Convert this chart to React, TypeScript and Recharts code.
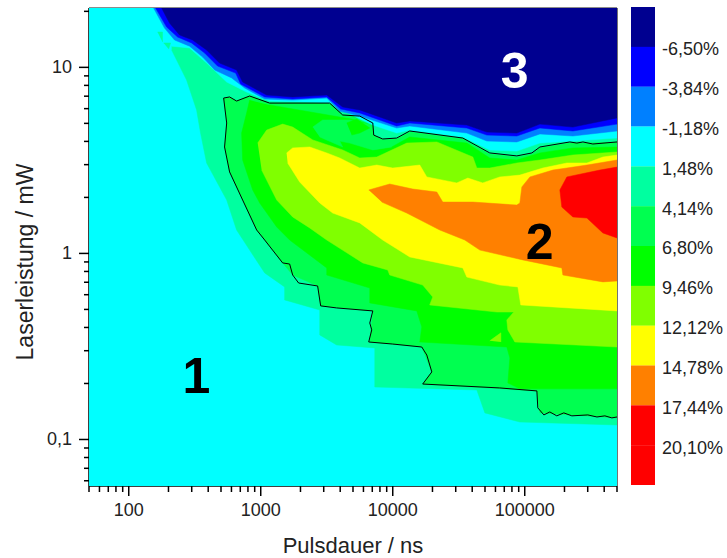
import React from "react";
import {
  ComposedChart, Scatter, XAxis, YAxis, ReferenceLine, ReferenceDot,
  BarChart, Bar, Cell,
} from "recharts";

type Pair = [number, number];

// Every contour region: [log10(pulse duration / ns), log10(laser power / mW)]
const baseBand: Pair[] = [[1.699,-1.25],[5.699,-1.25],[5.699,1.319],[1.699,1.319]];
const mintBand: Pair[] = [[2.325,1.093],[2.438,.932],[2.514,.771],[2.544,.647],[2.590,.486],[2.742,.287],[2.817,.126],[2.916,.018],[3.030,-.105],[3.181,-.180],[3.181,-.250],[3.447,-.304],[3.447,-.438],[3.575,-.492],[3.864,-.508],[3.864,-.718],[4.637,-.734],[4.698,-.857],[4.963,-.906],[5.699,-.922],[5.699,1.319],[2.325,1.319]];
const springBand: Pair[] = [[2.719,.835],[2.742,.701],[2.726,.572],[2.764,.438],[2.863,.287],[2.969,.126],[3.030,.072],[3.166,-.051],[3.242,-.116],[3.431,-.175],[3.454,-.282],[3.849,-.309],[3.826,-.476],[4.220,-.503],[4.296,-.637],[4.227,-.702],[4.834,-.728],[5.092,-.739],[5.115,-.857],[5.699,-.884],[5.699,.599],[5.441,.593],[5.342,.593],[5.115,.567],[5.054,.534],[4.940,.518],[4.735,.534],[4.531,.615],[4.129,.652],[4.030,.615],[3.924,.610],[3.856,.636],[3.849,.701],[3.750,.738],[3.621,.744],[3.522,.808],[3.067,.808],[2.916,.846],[2.817,.819],[2.764,.841]];
const greenBand: Pair[] = [[2.916,.824],[2.893,.755],[2.855,.647],[2.863,.502],[2.939,.341],[2.992,.271],[3.121,.142],[3.219,.072],[3.500,-.078],[3.500,-.116],[3.826,-.186],[3.826,-.266],[4.182,-.309],[4.220,-.395],[4.205,-.476],[4.864,-.503],[4.887,-.562],[4.872,-.696],[4.963,-.728],[5.699,-.728],[5.699,.572],[5.365,.567],[5.115,.540],[4.940,.502],[4.735,.513],[4.561,.593],[4.129,.626],[3.992,.572],[3.849,.556],[3.841,.647],[3.811,.695],[3.689,.722],[3.598,.733],[3.067,.798]];
const springIsland: Pair[] = [[3.394,.679],[3.469,.717],[3.674,.717],[3.841,.690],[3.856,.636],[3.924,.610],[3.992,.572],[3.849,.556],[3.674,.593],[3.598,.604],[3.621,.572],[3.447,.626]];
const greenBlob: Pair[] = [[3.651,.701],[3.727,.722],[3.826,.674],[3.750,.647],[3.689,.636]];
const limeBand: Pair[] = [[2.977,.593],[3.045,.663],[3.166,.695],[3.242,.679],[3.394,.610],[3.621,.556],[3.750,.513],[3.879,.518],[4.106,.593],[4.334,.599],[4.607,.518],[4.637,.459],[4.735,.459],[4.940,.486],[5.115,.502],[5.365,.529],[5.699,.545],[5.699,-.503],[4.925,-.476],[4.872,-.411],[4.864,-.358],[4.917,-.315],[4.789,-.315],[4.280,-.277],[4.303,-.234],[4.227,-.170],[3.977,-.116],[3.962,-.089],[3.773,-.051],[3.500,.072],[3.371,.137],[3.242,.196],[3.121,.287],[3.007,.448]];
const limeSpot: Pair[] = [[4.735,-.470],[4.819,-.427],[4.819,-.476]];
const yellowBand: Pair[] = [[3.196,.540],[3.242,.567],[3.371,.572],[3.500,.540],[3.598,.513],[3.750,.459],[3.879,.475],[4.000,.459],[4.205,.475],[4.258,.411],[4.485,.379],[4.569,.405],[4.682,.379],[4.811,.411],[4.963,.421],[5.137,.459],[5.319,.486],[5.471,.486],[5.592,.518],[5.699,.529],[5.699,-.309],[4.970,-.277],[4.948,-.180],[4.811,-.170],[4.561,-.127],[4.531,-.078],[4.129,-.019],[3.924,.072],[3.750,.164],[3.545,.217],[3.447,.271],[3.295,.384],[3.204,.486]];
const orangeBand: Pair[] = [[3.818,.341],[3.977,.373],[4.152,.346],[4.334,.330],[4.379,.276],[4.607,.276],[4.940,.260],[4.963,.271],[4.978,.357],[5.039,.411],[5.213,.448],[5.319,.459],[5.471,.475],[5.699,.502],[5.699,-.148],[5.592,-.153],[5.289,-.116],[5.281,-.078],[4.986,-.035],[4.660,.018],[4.546,.072],[4.356,.126],[4.106,.217],[3.917,.276]];
const redBand: Pair[] = [[5.699,.464],[5.569,.448],[5.319,.411],[5.266,.341],[5.281,.249],[5.365,.196],[5.471,.190],[5.592,.110],[5.699,.083]];
const upperCyanBand: Pair[] = [[2.158,1.319],[2.249,1.200],[2.325,1.114],[2.461,1.104],[2.590,1.023],[2.742,.921],[2.893,.867],[3.067,.819],[3.394,.813],[3.545,.808],[3.651,.760],[3.750,.722],[3.849,.690],[4.030,.647],[4.129,.663],[4.531,.626],[4.735,.556],[4.940,.550],[5.115,.593],[5.365,.604],[5.699,.620],[5.699,1.319]];
const speckA: Pair[] = [[2.218,1.190],[2.256,1.190],[2.256,1.136]];
const speckB: Pair[] = [[2.264,1.131],[2.317,1.131],[2.302,1.098]];
const azureBand: Pair[] = [[2.188,1.319],[2.271,1.211],[2.347,1.147],[2.461,1.114],[2.560,1.055],[2.651,.986],[2.780,.943],[2.878,.889],[3.030,.830],[3.242,.824],[3.500,.835],[3.598,.765],[3.750,.738],[4.030,.674],[4.129,.685],[4.561,.647],[4.713,.604],[4.940,.599],[5.115,.642],[5.365,.631],[5.699,.658],[5.699,1.319]];
const blueBand: Pair[] = [[2.203,1.319],[2.287,1.217],[2.370,1.163],[2.476,1.131],[2.575,1.077],[2.673,1.007],[2.810,.969],[2.848,.910],[3.030,.841],[3.242,.830],[3.500,.841],[3.606,.776],[3.750,.755],[4.030,.685],[4.129,.701],[4.561,.674],[4.713,.636],[4.940,.631],[5.115,.674],[5.365,.658],[5.699,.695],[5.699,1.319]];
const navyBand: Pair[] = [[2.249,1.319],[2.309,1.238],[2.385,1.174],[2.484,1.147],[2.590,1.093],[2.688,1.023],[2.817,.986],[2.863,.921],[3.045,.851],[3.242,.841],[3.500,.851],[3.621,.787],[3.750,.771],[4.030,.701],[4.129,.712],[4.561,.690],[4.713,.652],[4.940,.647],[5.115,.695],[5.365,.679],[5.699,.728],[5.699,1.319]];
const contour: Pair[] = [[5.699,.599],[5.516,.588],[5.441,.599],[5.395,.593],[5.342,.599],[5.115,.572],[5.054,.540],[4.940,.524],[4.735,.540],[4.531,.620],[4.129,.658],[4.030,.620],[3.924,.615],[3.856,.636],[3.849,.701],[3.750,.738],[3.621,.744],[3.522,.808],[3.067,.808],[2.916,.846],[2.817,.819],[2.764,.841],[2.719,.835],[2.742,.701],[2.726,.572],[2.764,.438],[2.863,.287],[2.969,.126],[3.030,.072],[3.166,-.051],[3.219,-.057],[3.242,-.116],[3.287,-.159],[3.431,-.175],[3.454,-.282],[3.575,-.293],[3.849,-.309],[3.826,-.374],[3.841,-.411],[3.818,-.476],[4.000,-.487],[4.220,-.503],[4.258,-.546],[4.296,-.637],[4.227,-.702],[4.811,-.723],[5.092,-.739],[5.099,-.830],[5.145,-.868],[5.190,-.852],[5.243,-.873],[5.296,-.857],[5.357,-.873],[5.478,-.868],[5.547,-.879],[5.607,-.873],[5.660,-.884],[5.699,-.879]];

const NAVY = "#000090", BLUE = "#0000ff", AZURE = "#0080ff", CYAN = "#00ffff", MINT = "#00ffa0",
  SPRING = "#00ff50", GREEN = "#00ff00", LIME = "#80ff00", YELLOW = "#ffff00", ORANGE = "#ff8000", RED = "#ff0000";

const regions: [Pair[], string][] = [
  [baseBand, CYAN], [mintBand, MINT], [springBand, SPRING], [greenBand, GREEN], [springIsland, SPRING],
  [greenBlob, GREEN], [limeBand, LIME], [limeSpot, LIME], [yellowBand, YELLOW], [orangeBand, ORANGE],
  [redBand, RED], [upperCyanBand, CYAN], [speckA, MINT], [speckB, MINT], [azureBand, AZURE],
  [blueBand, BLUE], [navyBand, NAVY],
];

const toPoints = (pairs: Pair[]) => pairs.map(([t, p]) => ({ t: 10 ** t, p: 10 ** p }));

const xMajor = [100, 1000, 10000, 100000];
const xMinor = [50, 60, 70, 80, 90, 200, 300, 400, 500, 600, 700, 800, 900, 2000, 3000, 4000, 5000, 6000, 7000, 8000, 9000, 20000, 30000, 40000, 50000, 60000, 70000, 80000, 90000, 200000, 300000, 400000, 500000];
const yMajor = [0.1, 1, 10];
const yMinor = [0.06, 0.07, 0.08, 0.09, 0.2, 0.3, 0.4, 0.5, 0.6, 0.7, 0.8, 0.9, 2, 3, 4, 5, 6, 7, 8, 9, 20];

const scaleLevels = ["-6,50%", "-3,84%", "-1,18%", "1,48%", "4,14%", "6,80%", "9,46%", "12,12%", "14,78%", "17,44%", "20,10%", ""];
const scaleColors = [NAVY, BLUE, AZURE, CYAN, MINT, SPRING, GREEN, LIME, YELLOW, ORANGE, RED, RED];
const scaleRows = scaleLevels.map((level) => ({ level, span: 1 }));

const FONT = '"Liberation Sans", Arial, sans-serif';
const INK = "#222";

const XTick = ({ x, y, payload }: any) => {
  const major = xMajor.includes(payload.value);
  return (
    <g>
      <line x1={x} x2={x} y1={y} y2={y + (major ? 10 : 6)} stroke="#000" strokeWidth={1.5} />
      {major && <text x={x} y={y + 30} textAnchor="middle" fontSize={18} fontFamily={FONT} fill={INK}>{payload.value}</text>}
    </g>
  );
};

const YTick = ({ x, y, payload }: any) => {
  const major = yMajor.includes(payload.value);
  return (
    <g>
      <line x1={x - (major ? 10 : 5)} x2={x} y1={y} y2={y} stroke="#000" strokeWidth={1.5} />
      {major && <text x={x - 17} y={y + 6} textAnchor="end" fontSize={18} fontFamily={FONT} fill={INK}>{String(payload.value).replace(".", ",")}</text>}
    </g>
  );
};

const YTitle = () => (
  <text transform="translate(33,262) rotate(-90)" textAnchor="middle" fontSize={23} fontFamily={FONT} fill={INK}>
    Laserleistung / mW
  </text>
);

const noMark = () => <g />;

const digit = (value: string, fill: string) => ({
  value, position: "center" as const, fontSize: 50, fontWeight: 700, fontFamily: FONT, fill,
});

export default function App() {
  return (
    <div style={{ position: "absolute", left: 0, top: 0, width: 727, height: 558, background: "#fff" }}>
      <ComposedChart width={727} height={558} margin={{ top: 8, right: 110, bottom: 0, left: 0 }} style={{ position: "absolute", left: 0, top: 0 }}>
        <XAxis
          dataKey="t" type="number" scale="log" domain={[50, 500000]} allowDataOverflow
          ticks={[...xMajor, ...xMinor].sort((a, b) => a - b)} interval={0} height={72}
          tick={<XTick />} tickLine={false} tickSize={0} tickMargin={0}
          axisLine={{ stroke: "#000", strokeWidth: 1.5 }}
          label={{ value: "Pulsdauer / ns", position: "insideBottom", offset: 5, fontSize: 22, fontFamily: FONT, fill: INK }}
        />
        <YAxis
          dataKey="p" type="number" scale="log" domain={[10 ** -1.25, 10 ** 1.319]} allowDataOverflow
          ticks={[...yMajor, ...yMinor].sort((a, b) => a - b)} interval={0} width={89}
          tick={<YTick />} tickLine={false} tickSize={0} tickMargin={0}
          axisLine={{ stroke: "#000", strokeWidth: 1.5 }}
          label={{ value: "Laserleistung / mW", content: () => <YTitle /> }}
        />
        {regions.map(([pairs, color], i) => (
          <Scatter
            key={i} data={toPoints(pairs)} isAnimationActive={false} shape={noMark}
            line={{ fill: color, stroke: color, strokeWidth: 0.5 }} fill={color}
          />
        ))}
        <Scatter
          data={toPoints(contour)} isAnimationActive={false} shape={noMark}
          line={{ fill: "none", stroke: "#000", strokeWidth: 1 }} fill="#000"
        />
        <ReferenceLine x={500000} stroke="#444" strokeWidth={1.5} />
        <ReferenceLine y={10 ** 1.319} stroke="#666" strokeWidth={1.5} />
        <ReferenceDot x={325} y={0.222} r={0} fill="none" stroke="none" label={digit("1", "#000")} />
        <ReferenceDot x={130000} y={1.16} r={0} fill="none" stroke="none" label={digit("2", "#000")} />
        <ReferenceDot x={84000} y={9.7} r={0} fill="none" stroke="none" label={digit("3", "#fff")} />
      </ComposedChart>
      <BarChart
        layout="vertical" width={96} height={478} data={scaleRows} barCategoryGap={0}
        margin={{ top: 0, right: 0, bottom: 0, left: 0 }}
        style={{ position: "absolute", left: 631, top: 7 }}
      >
        <XAxis type="number" domain={[0, 1]} hide />
        <YAxis
          type="category" dataKey="level" orientation="right" width={72} interval={0}
          axisLine={false} tickLine={false} tickSize={0} tickMargin={7}
          tick={{ fontSize: 18, fontFamily: FONT, fill: INK, dy: 22 }}
        />
        <Bar dataKey="span" isAnimationActive={false}>
          {scaleRows.map((row, i) => <Cell key={i} fill={scaleColors[i]} />)}
        </Bar>
      </BarChart>
    </div>
  );
}
